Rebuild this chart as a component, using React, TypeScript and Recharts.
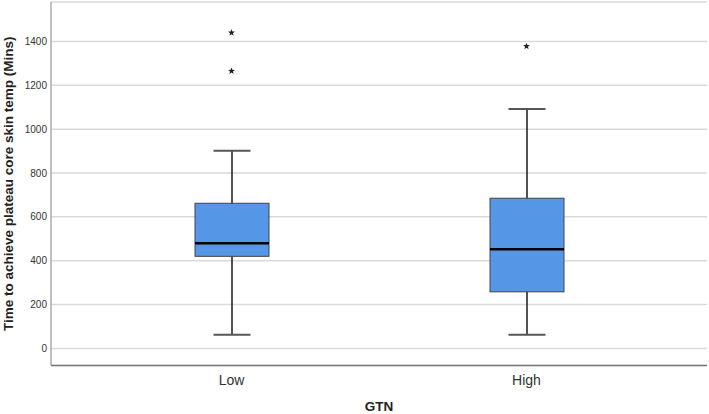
import {
  Bar,
  CartesianGrid,
  ComposedChart,
  Scatter,
  XAxis,
  YAxis,
} from "recharts";

// Box plot: Zeit bis zum Plateau (Mins) nach GTN-Gruppe
const categories = ["Low", "High"];
const minValues = [62, 62];
const q1Values = [420, 258];
const medianValues = [480, 452];
const q3Values = [662, 685];
const maxValues = [902, 1092];
const outlierTop = [1440, 1378];
const outlierSecond: (number | null)[] = [1265, null];
const yTicks = [0, 200, 400, 600, 800, 1000, 1200, 1400];

const data = categories.map((name, i) => ({
  name,
  whisker: [minValues[i], maxValues[i]],
  min: minValues[i],
  q1: q1Values[i],
  median: medianValues[i],
  q3: q3Values[i],
  max: maxValues[i],
  out1: outlierTop[i],
  out2: outlierSecond[i],
}));

const font = "Liberation Sans, Arial, sans-serif";

function BoxShape(props: any) {
  const { x, y, width, height, payload } = props;
  const top = Math.min(y, y + height);
  const h = Math.abs(height);
  const { min, max, q1, median, q3 } = payload;
  const pos = (v: number) => top + (h * (max - v)) / (max - min);
  const cx = x + width / 2;
  const capHalf = width / 4;
  return (
    <g>
      <line x1={cx} x2={cx} y1={pos(max)} y2={pos(min)} stroke="#1a1a1a" strokeWidth={1.5} />
      <line x1={cx - capHalf} x2={cx + capHalf} y1={pos(max)} y2={pos(max)} stroke="#555" strokeWidth={2} />
      <line x1={cx - capHalf} x2={cx + capHalf} y1={pos(min)} y2={pos(min)} stroke="#555" strokeWidth={2} />
      <rect
        x={x}
        y={pos(q3)}
        width={width}
        height={pos(q1) - pos(q3)}
        fill="#5596e6"
        stroke="#444"
        strokeWidth={1}
      />
      <line x1={x} x2={x + width} y1={pos(median)} y2={pos(median)} stroke="#000" strokeWidth={2.5} />
    </g>
  );
}

function StarShape(props: any) {
  const { cx, cy } = props;
  if (cx == null || cy == null || Number.isNaN(cy)) return <g />;
  const pts: string[] = [];
  for (let k = 0; k < 10; k++) {
    const r = k % 2 === 0 ? 3.6 : 1.5;
    const a = -Math.PI / 2 + (k * Math.PI) / 5;
    pts.push(`${cx + r * Math.cos(a)},${cy + r * Math.sin(a)}`);
  }
  return <polygon points={pts.join(" ")} fill="#222" />;
}

export default function App() {
  return (
    <div style={{ position: "absolute", left: 0, top: 0, background: "#fff" }}>
      <ComposedChart
        width={709}
        height={414}
        data={data}
        margin={{ top: 2, right: 2, bottom: 0, left: 0 }}
      >
        <CartesianGrid horizontal vertical={false} stroke="#d9d9d9" strokeWidth={1.5} />
        <XAxis
          dataKey="name"
          type="category"
          padding={{ left: 33, right: 33 }}
          height={48.5}
          axisLine={{ stroke: "#777", strokeWidth: 1.5 }}
          tickLine={false}
          tickSize={0}
          tickMargin={10}
          tick={{ fontSize: 14, fill: "#333", fontFamily: font }}
          label={{
            value: "GTN",
            position: "insideBottom",
            offset: 3,
            style: { fontSize: 13.5, fontWeight: "bold", fill: "#222", fontFamily: font },
          }}
        />
        <YAxis
          type="number"
          width={51}
          domain={[-78, 1580]}
          ticks={yTicks}
          allowDataOverflow
          axisLine={{ stroke: "#aaa", strokeWidth: 1.5 }}
          tickLine={false}
          tickSize={0}
          tickMargin={4}
          tick={{ fontSize: 10, fill: "#333", fontFamily: font }}
          label={{
            value: "Time to achieve plateau core skin temp (Mins)",
            angle: -90,
            position: "insideLeft",
            offset: 8,
            style: {
              textAnchor: "middle",
              fontSize: 13.5,
              fontWeight: "bold",
              fill: "#222",
              fontFamily: font,
            },
          }}
        />
        <Bar dataKey="whisker" barSize={74} shape={<BoxShape />} isAnimationActive={false} />
        <Scatter dataKey="out1" shape={<StarShape />} isAnimationActive={false} />
        <Scatter dataKey="out2" shape={<StarShape />} isAnimationActive={false} />
      </ComposedChart>
    </div>
  );
}
